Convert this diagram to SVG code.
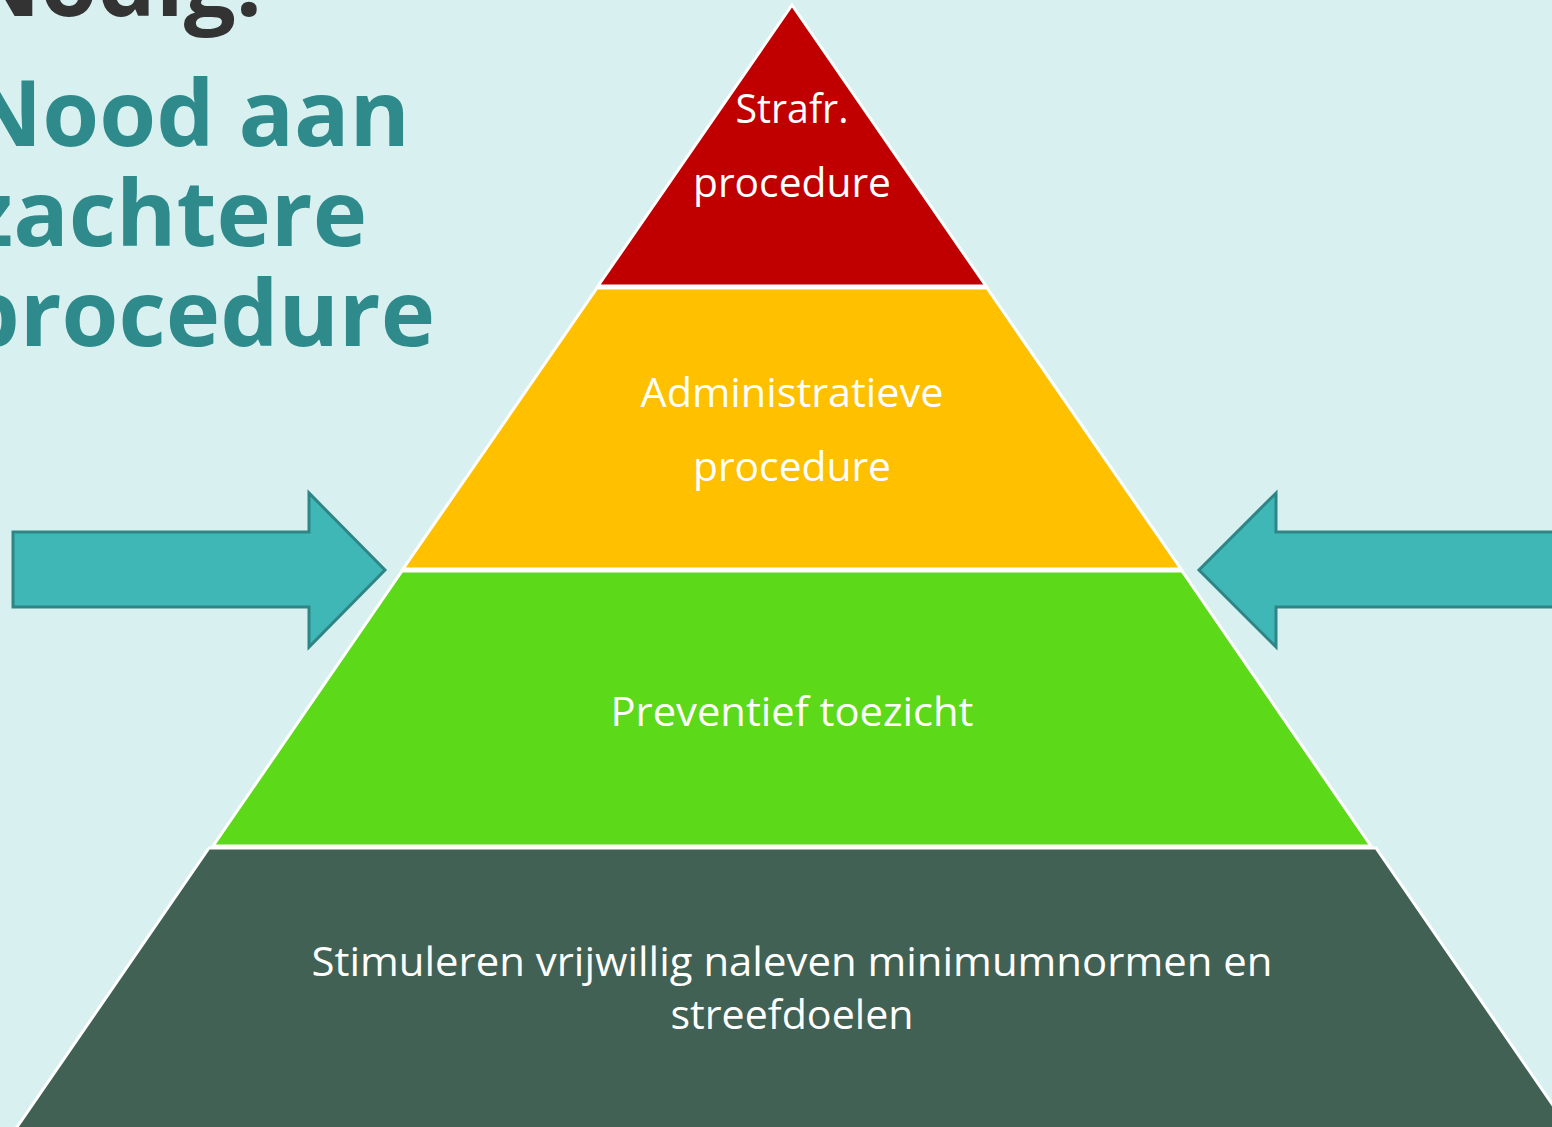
<svg xmlns="http://www.w3.org/2000/svg" width="1552" height="1127" viewBox="0 0 1552 1127">
<style>
.layer{stroke:#FFFFFF;stroke-width:3;stroke-linejoin:miter}
.lbl{font-family:"Open Sans","Liberation Sans",sans-serif;font-size:41px;fill:#FFFFFF;text-anchor:middle}
.title{font-family:"Open Sans","Liberation Sans",sans-serif;font-weight:bold;font-size:92px;text-anchor:end}
.arrow{fill:#40B7B7;stroke:#2E8585;stroke-width:3}
</style>
<rect width="1552" height="1127" fill="#D9F0F0"/>
<g id="title">
<text class="title" x="262" y="16" fill="#333333">Nodig:</text>
<text class="title" x="410" y="146" fill="#2F8B8B">Nood aan</text>
<text class="title" x="367" y="246" fill="#2F8B8B">zachtere</text>
<text class="title" x="435" y="346" fill="#2F8B8B">procedure</text>
</g>
<g id="connectors">
<polygon class="arrow" points="13,532 309,532 309,493 385,570 309,647 309,607 13,607"/>
<polygon class="arrow" points="1560,532 1276,532 1276,493 1199,570 1276,647 1276,607 1560,607"/>
</g>
<g id="layer-strafr">
<polygon class="layer" fill="#C00000" points="792,5 986,286 598,286"/>
<text class="lbl" x="792" y="123" textLength="113" lengthAdjust="spacingAndGlyphs">Strafr.</text>
<text class="lbl" x="792" y="197" textLength="198" lengthAdjust="spacingAndGlyphs">procedure</text>
</g>
<g id="layer-admin">
<polygon class="layer" fill="#FFC000" points="597,288 987,288 1181,569 403,569"/>
<text class="lbl" x="792" y="407" textLength="303" lengthAdjust="spacingAndGlyphs">Administratieve</text>
<text class="lbl" x="792" y="481" textLength="198" lengthAdjust="spacingAndGlyphs">procedure</text>
</g>
<g id="layer-preventief">
<polygon class="layer" fill="#5CD918" points="402,571 1182,571 1371,846 213,846"/>
<text class="lbl" x="792" y="726" textLength="363" lengthAdjust="spacingAndGlyphs">Preventief toezicht</text>
</g>
<g id="layer-stimuleren">
<polygon class="layer" fill="#416155" points="209,848 1376,848 1570,1130 15,1130"/>
<text class="lbl" x="792" y="976" textLength="961" lengthAdjust="spacingAndGlyphs">Stimuleren vrijwillig naleven minimumnormen en</text>
<text class="lbl" x="792" y="1029" textLength="243" lengthAdjust="spacingAndGlyphs">streefdoelen</text>
</g>
</svg>
